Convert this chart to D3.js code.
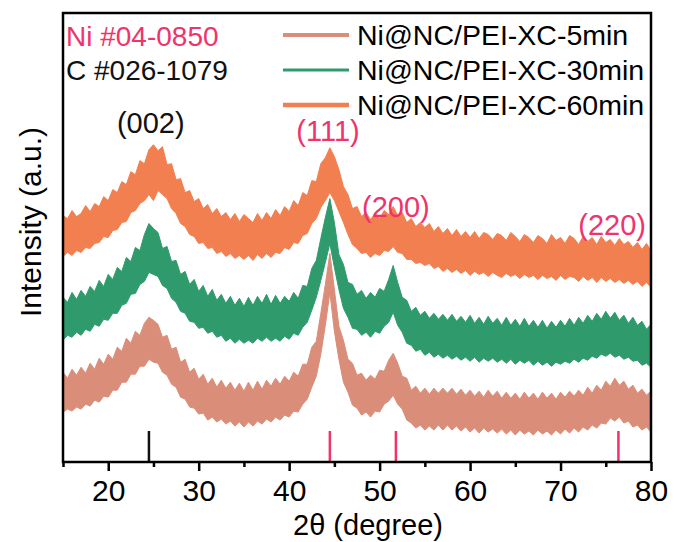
<!DOCTYPE html>
<html>
<head>
<meta charset="utf-8">
<script src="https://cdn.jsdelivr.net/npm/d3@7"></script>
<style>
body { margin: 0; background: #fff; }
svg text { font-family: "Liberation Sans", Arial, Helvetica, sans-serif; }
</style>
</head>
<body>
<div id="chart"></div>
<script>
// scan envelopes: min / max intensity (a.u.) in each 0.5 deg bin, 15..80 deg
var thetaStart = 15, thetaStep = 0.5;

var top60 = [247,244,252,246,249,257,251,259,256,266,
	262,273,270,281,278,291,288,302,299,313,
	318,312,316,298,299,283,284,270,272,261,
	264,254,258,249,254,246,250,243,249,241,
	248,244,240,249,242,250,244,253,247,256,
	251,262,257,270,267,282,281,299,305,315,
	306,293,276,268,254,256,246,250,243,249,
	244,252,248,256,247,250,240,244,236,240,
	235,239,231,236,229,234,227,233,226,231,
	225,231,224,230,228,223,229,227,222,230,
	226,221,228,225,220,227,224,219,228,222,
	225,219,227,224,218,226,221,225,218,226,
	220,223,217,224,218,221,215,220,213,219,
	212];
var bot60 = [206,210,207,212,210,215,214,219,220,226,
	225,232,233,240,241,250,252,259,262,268,
	262,272,268,264,254,249,239,236,228,226,
	219,220,214,215,209,211,206,209,204,207,
	203,207,202,208,204,209,205,210,209,215,
	213,220,219,227,229,239,244,255,262,270,
	262,251,240,228,218,214,209,210,205,209,
	207,212,211,216,210,209,203,203,199,200,
	197,199,194,196,191,194,190,193,189,192,
	187,191,188,190,186,190,187,185,189,186,
	188,184,188,185,187,183,187,184,186,182,
	187,183,186,185,181,186,182,185,180,185,
	181,184,180,183,179,182,178,181,176,180,
	175];

var top30 = [165,160,170,163,172,166,176,171,182,176,
	188,183,195,191,205,201,215,212,228,239,
	234,230,214,216,201,202,188,191,178,183,
	171,177,166,173,162,168,159,166,157,164,
	156,165,157,166,159,168,158,167,159,166,
	161,170,164,177,176,194,202,224,245,264,
	240,208,198,180,178,168,172,164,170,165,
	174,171,183,197,180,165,162,151,155,147,
	151,144,149,143,148,142,148,141,146,140,
	147,139,145,138,146,139,144,137,145,137,
	143,136,144,136,142,135,142,134,141,135,
	142,136,144,137,145,139,147,141,149,143,
	151,144,150,142,147,139,145,137,141,133,
	138];
var bot30 = [122,127,125,130,127,133,131,138,136,143,
	142,149,149,157,159,168,169,178,181,190,
	188,186,177,174,164,160,151,149,141,140,
	134,135,129,131,125,127,121,124,119,123,
	119,122,119,124,121,125,121,124,121,126,
	123,129,127,135,140,152,165,182,200,219,
	195,173,154,145,134,133,127,130,125,131,
	129,136,140,150,137,130,119,117,111,113,
	107,110,105,108,104,107,103,106,102,105,
	101,105,100,104,101,104,100,103,99,103,
	98,102,99,102,97,101,97,100,96,100,
	98,101,99,103,100,104,102,106,104,108,
	106,109,105,107,103,105,101,102,97,99,
	95];

var top5 = [90,84,93,87,95,89,99,93,104,98,
	108,103,115,111,124,119,131,127,139,145,
	142,138,125,127,113,115,100,103,90,94,
	83,88,78,84,75,82,74,80,72,79,
	71,80,72,81,73,82,76,84,78,86,
	81,90,86,98,98,115,121,149,178,209,
	173,136,122,103,99,87,89,82,87,83,
	92,91,102,109,99,86,84,72,76,69,
	74,68,74,69,74,69,74,68,73,67,
	72,66,71,65,72,66,71,64,70,64,
	69,63,70,64,69,63,70,64,69,63,
	70,65,71,66,72,67,75,69,77,72,
	81,76,84,77,81,73,77,69,73,67,
	71];
var bot5 = [50,53,51,55,53,58,56,62,60,66,
	65,72,72,80,80,88,88,96,96,103,
	100,99,90,87,78,75,65,63,55,54,
	48,49,42,45,40,43,38,41,36,40,
	35,40,36,41,38,43,40,45,42,47,
	45,51,50,58,63,75,86,108,137,170,
	131,103,80,70,57,54,47,50,45,51,
	50,58,61,67,58,53,42,39,34,37,
	32,36,32,37,32,37,32,36,31,35,
	30,34,29,34,30,33,29,33,28,32,
	27,32,28,31,27,32,28,31,27,32,
	28,33,29,34,30,35,32,37,34,39,
	38,44,41,45,39,41,35,37,32,35,
	30];

var seriesNames = ["Ni@NC/PEI-XC-5min", "Ni@NC/PEI-XC-30min", "Ni@NC/PEI-XC-60min"];
var seriesColors = ["#da8e79", "#2f9b6d", "#f27f50"];

// reference card positions (2theta)
var refC = [24.5];
var refNi = [44.5, 51.8, 76.4];

var peakLabels = ["(002)", "(111)", "(200)", "(220)"];
var peakTheta = [24.7, 44.3, 51.8, 75.7];
var peakInt = [330, 322, 246, 228];
var peakColors = ["#111", "#f0336b", "#f0336b", "#f0336b"];

var majorTicks = [20, 30, 40, 50, 60, 70, 80];
var minorTicks = [15, 25, 35, 45, 55, 65, 75];

var W = 674, H = 542;
var m = {left: 63, right: 23, top: 13, bottom: 80};

var svg = d3.select("#chart").append("svg").attr("width", W).attr("height", H);

var x = d3.scaleLinear().domain([15, 80]).range([m.left, W - m.right]);
var y = d3.scaleLinear().domain([0, 450]).range([H - m.bottom, m.top]);

function toRows(hi, lo) {
	var rows = [];
	for (var i = 0; i < hi.length; i++) {
		rows.push({t: thetaStart + i * thetaStep, hi: hi[i], lo: lo[i]});
	}
	return rows;
}

var series = [
	{rows: toRows(top60, bot60), color: seriesColors[2]},
	{rows: toRows(top30, bot30), color: seriesColors[1]},
	{rows: toRows(top5, bot5), color: seriesColors[0]}
];

var band = d3.area()
	.x(function(d) { return x(d.t); })
	.y0(function(d) { return y(d.lo); })
	.y1(function(d) { return y(d.hi); });

svg.append("g").selectAll("path")
	.data(series)
	.enter().append("path")
	.attr("d", function(d) { return band(d.rows); })
	.style("fill", function(d) { return d.color; })
	.style("stroke", function(d) { return d.color; })
	.style("stroke-width", 1);

// reference sticks
svg.append("g").selectAll("line")
	.data(refC.map(function(t) { return {t: t, c: "#111"}; })
		.concat(refNi.map(function(t) { return {t: t, c: "#f0336b"}; })))
	.enter().append("line")
	.attr("x1", function(d) { return x(d.t); })
	.attr("x2", function(d) { return x(d.t); })
	.attr("y1", H - m.bottom - 31)
	.attr("y2", H - m.bottom)
	.style("stroke", function(d) { return d.c; })
	.style("stroke-width", 2.5);

// axes
var xMajor = d3.axisBottom(x).tickValues(majorTicks).tickSize(9).tickPadding(9).tickFormat(d3.format("d"));
var xMinor = d3.axisBottom(x).tickValues(minorTicks).tickSize(5).tickFormat("");

var gx = svg.append("g").attr("transform", "translate(0," + (H - m.bottom) + ")").call(xMajor);
var gm = svg.append("g").attr("transform", "translate(0," + (H - m.bottom) + ")").call(xMinor);
gx.select(".domain").remove();
gm.select(".domain").remove();
gx.selectAll("line").style("stroke", "#000").style("stroke-width", 2.5);
gm.selectAll("line").style("stroke", "#000").style("stroke-width", 2.5);
gx.selectAll("text").style("font-size", "30px").style("fill", "#000")
	.style("font-family", "'Liberation Sans', Arial, sans-serif");

svg.append("rect")
	.attr("x", m.left).attr("y", m.top)
	.attr("width", W - m.left - m.right).attr("height", H - m.top - m.bottom)
	.style("fill", "none").style("stroke", "#000").style("stroke-width", 2.5);

// axis titles
svg.append("text")
	.attr("x", 368).attr("y", 535)
	.attr("text-anchor", "middle")
	.style("font-size", "29px")
	.text("2\u03b8 (degree)");

svg.append("text")
	.attr("transform", "translate(30," + 222 + ") rotate(-90)")
	.attr("text-anchor", "middle")
	.attr("dy", "0.35em")
	.style("font-size", "30px")
	.text("Intensity (a.u.)");

// peak indices
svg.append("g").selectAll("text")
	.data(peakLabels)
	.enter().append("text")
	.attr("x", function(d, i) { return x(peakTheta[i]); })
	.attr("y", function(d, i) { return y(peakInt[i]); })
	.attr("text-anchor", "middle")
	.style("font-size", "29px")
	.style("fill", function(d, i) { return peakColors[i]; })
	.text(function(d) { return d; });

// card labels
svg.append("text").attr("x", 66).attr("y", 46)
	.style("font-size", "28px").style("fill", "#f0336b").text("Ni #04-0850");
svg.append("text").attr("x", 66).attr("y", 80)
	.style("font-size", "28px").style("fill", "#111").text("C #026-1079");

// legend
var lineW = [4, 3, 4.5];
var legend = svg.append("g").selectAll("g")
	.data(seriesNames)
	.enter().append("g")
	.attr("transform", function(d, i) { return "translate(283," + (35 + i * 35) + ")"; });

legend.append("line")
	.attr("x1", 0).attr("x2", 66)
	.style("stroke", function(d, i) { return seriesColors[i]; })
	.style("stroke-width", function(d, i) { return lineW[i]; });

legend.append("text")
	.attr("x", 74).attr("y", 10)
	.style("font-size", "28.5px")
	.text(function(d) { return d; });
</script>
</body>
</html>
